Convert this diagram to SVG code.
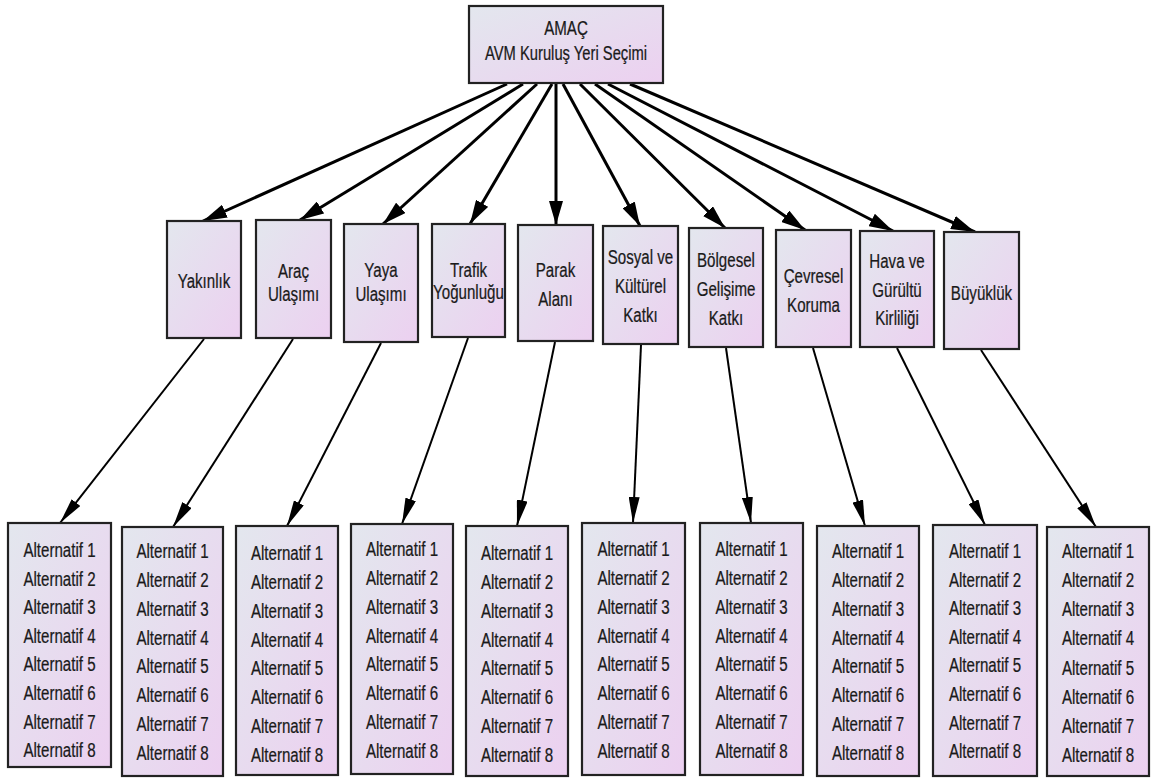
<svg xmlns="http://www.w3.org/2000/svg" width="1152" height="778" viewBox="0 0 1152 778">
<defs>
<linearGradient id="g" x1="0" y1="0" x2="1" y2="1">
<stop offset="0" stop-color="#e3e7ee"/>
<stop offset="1" stop-color="#ecd0f0"/>
</linearGradient>
<marker id="ah1" markerUnits="userSpaceOnUse" markerWidth="24" markerHeight="14" refX="24" refY="7" orient="auto">
<path d="M0,0 L24,7 L0,14 z" fill="#000"/>
</marker>
<marker id="ah2" markerUnits="userSpaceOnUse" markerWidth="26" markerHeight="11" refX="26" refY="5.5" orient="auto">
<path d="M0,0 L26,5.5 L0,11 z" fill="#000"/>
</marker>
<style>
.b{fill:url(#g);stroke:#222;stroke-width:2.2}
.t{font-family:"Liberation Sans",Arial,sans-serif;font-size:21px;fill:#1a1a1a;stroke:#1a1a1a;stroke-width:0.25;text-anchor:middle}
.c1{fill:none;stroke:#000;stroke-width:3;marker-end:url(#ah1)}
.c2{fill:none;stroke:#000;stroke-width:2;marker-end:url(#ah2)}
</style>
</defs>
<rect width="1152" height="778" fill="#fff"/>

<g id="connectors">
<line class="c1" x1="507" y1="84" x2="203" y2="221"/>
<line class="c1" x1="523" y1="84" x2="300" y2="220"/>
<line class="c1" x1="537" y1="84" x2="383" y2="224"/>
<line class="c1" x1="552" y1="84" x2="470" y2="224"/>
<line class="c1" x1="556" y1="84" x2="556" y2="225"/>
<line class="c1" x1="563" y1="84" x2="640" y2="226"/>
<line class="c1" x1="580" y1="84" x2="725" y2="228"/>
<line class="c1" x1="595" y1="84" x2="805" y2="230"/>
<line class="c1" x1="608" y1="84" x2="893" y2="231"/>
<line class="c1" x1="630" y1="84" x2="975" y2="232"/>
<line class="c2" x1="204" y1="339" x2="60" y2="523"/>
<line class="c2" x1="293" y1="339" x2="173" y2="527"/>
<line class="c2" x1="381" y1="343" x2="287" y2="526"/>
<line class="c2" x1="468" y1="338" x2="402" y2="524"/>
<line class="c2" x1="555" y1="342" x2="517" y2="526"/>
<line class="c2" x1="641" y1="345" x2="633" y2="523"/>
<line class="c2" x1="726" y1="348" x2="751" y2="523"/>
<line class="c2" x1="813" y1="348" x2="865" y2="526"/>
<line class="c2" x1="897" y1="348" x2="985" y2="525"/>
<line class="c2" x1="981" y1="350" x2="1096" y2="527"/>
</g>

<g id="goal">
<rect class="b" x="469" y="6" width="194" height="77"/>
<text class="t" transform="translate(566,35) scale(0.72,1)">AMAÇ</text>
<text class="t" transform="translate(566,60) scale(0.72,1)" style="font-size:20.5px">AVM Kuruluş Yeri Seçimi</text>
</g>

<g id="c1"><rect class="b" x="167" y="221" width="74" height="117"/>
<text class="t" transform="translate(204,288) scale(0.72,1)">Yakınlık</text></g>
<g id="c2"><rect class="b" x="256" y="220" width="75" height="118"/>
<text class="t" transform="translate(293.5,278) scale(0.72,1)">Araç</text>
<text class="t" transform="translate(293.5,301) scale(0.72,1)">Ulaşımı</text></g>
<g id="c3"><rect class="b" x="344" y="224" width="74" height="118"/>
<text class="t" transform="translate(381,277) scale(0.72,1)">Yaya</text>
<text class="t" transform="translate(381,301) scale(0.72,1)">Ulaşımı</text></g>
<g id="c4"><rect class="b" x="432" y="224" width="73" height="113"/>
<text class="t" transform="translate(468.5,277) scale(0.72,1)">Trafik</text>
<text class="t" transform="translate(468.5,299) scale(0.72,1)">Yoğunluğu</text></g>
<g id="c5"><rect class="b" x="518" y="225" width="75" height="116"/>
<text class="t" transform="translate(555.5,277) scale(0.72,1)">Parak</text>
<text class="t" transform="translate(555.5,306) scale(0.72,1)">Alanı</text></g>
<g id="c6"><rect class="b" x="603" y="226" width="75" height="118"/>
<text class="t" transform="translate(640.5,264) scale(0.72,1)">Sosyal ve</text>
<text class="t" transform="translate(640.5,293) scale(0.72,1)">Kültürel</text>
<text class="t" transform="translate(640.5,322) scale(0.72,1)">Katkı</text></g>
<g id="c7"><rect class="b" x="689" y="228" width="74" height="119"/>
<text class="t" transform="translate(726,267) scale(0.72,1)">Bölgesel</text>
<text class="t" transform="translate(726,296) scale(0.72,1)">Gelişime</text>
<text class="t" transform="translate(726,325) scale(0.72,1)">Katkı</text></g>
<g id="c8"><rect class="b" x="776" y="230" width="75" height="117"/>
<text class="t" transform="translate(813.5,283) scale(0.72,1)">Çevresel</text>
<text class="t" transform="translate(813.5,312) scale(0.72,1)">Koruma</text></g>
<g id="c9"><rect class="b" x="860" y="231" width="74" height="116"/>
<text class="t" transform="translate(897,268) scale(0.72,1)">Hava ve</text>
<text class="t" transform="translate(897,297) scale(0.72,1)">Gürültü</text>
<text class="t" transform="translate(897,325) scale(0.72,1)">Kirliliği</text></g>
<g id="c10"><rect class="b" x="944" y="232" width="75" height="117"/>
<text class="t" transform="translate(981.5,300) scale(0.72,1)">Büyüklük</text></g>

<g id="a1"><rect class="b" x="8" y="523" width="103" height="244"/>
<text class="t" transform="translate(59.5,557) scale(0.72,1)"><tspan x="0" y="0">Alternatif 1</tspan><tspan x="0" y="28.6">Alternatif 2</tspan><tspan x="0" y="57.2">Alternatif 3</tspan><tspan x="0" y="85.8">Alternatif 4</tspan><tspan x="0" y="114.4">Alternatif 5</tspan><tspan x="0" y="143">Alternatif 6</tspan><tspan x="0" y="171.6">Alternatif 7</tspan><tspan x="0" y="200.2">Alternatif 8</tspan></text></g>
<g id="a2"><rect class="b" x="122" y="527" width="101" height="249"/>
<text class="t" transform="translate(172.5,558) scale(0.72,1)"><tspan x="0" y="0">Alternatif 1</tspan><tspan x="0" y="28.9">Alternatif 2</tspan><tspan x="0" y="57.7">Alternatif 3</tspan><tspan x="0" y="86.6">Alternatif 4</tspan><tspan x="0" y="115.4">Alternatif 5</tspan><tspan x="0" y="144.3">Alternatif 6</tspan><tspan x="0" y="173.1">Alternatif 7</tspan><tspan x="0" y="202">Alternatif 8</tspan></text></g>
<g id="a3"><rect class="b" x="236" y="526" width="102" height="249"/>
<text class="t" transform="translate(287,560) scale(0.72,1)"><tspan x="0" y="0">Alternatif 1</tspan><tspan x="0" y="28.9">Alternatif 2</tspan><tspan x="0" y="57.7">Alternatif 3</tspan><tspan x="0" y="86.6">Alternatif 4</tspan><tspan x="0" y="115.4">Alternatif 5</tspan><tspan x="0" y="144.3">Alternatif 6</tspan><tspan x="0" y="173.1">Alternatif 7</tspan><tspan x="0" y="202">Alternatif 8</tspan></text></g>
<g id="a4"><rect class="b" x="351" y="524" width="102" height="250"/>
<text class="t" transform="translate(402,556) scale(0.72,1)"><tspan x="0" y="0">Alternatif 1</tspan><tspan x="0" y="28.9">Alternatif 2</tspan><tspan x="0" y="57.7">Alternatif 3</tspan><tspan x="0" y="86.6">Alternatif 4</tspan><tspan x="0" y="115.4">Alternatif 5</tspan><tspan x="0" y="144.3">Alternatif 6</tspan><tspan x="0" y="173.1">Alternatif 7</tspan><tspan x="0" y="202">Alternatif 8</tspan></text></g>
<g id="a5"><rect class="b" x="466" y="526" width="102" height="250"/>
<text class="t" transform="translate(517,560) scale(0.72,1)"><tspan x="0" y="0">Alternatif 1</tspan><tspan x="0" y="28.9">Alternatif 2</tspan><tspan x="0" y="57.7">Alternatif 3</tspan><tspan x="0" y="86.6">Alternatif 4</tspan><tspan x="0" y="115.4">Alternatif 5</tspan><tspan x="0" y="144.3">Alternatif 6</tspan><tspan x="0" y="173.1">Alternatif 7</tspan><tspan x="0" y="202">Alternatif 8</tspan></text></g>
<g id="a6"><rect class="b" x="582" y="523" width="103" height="252"/>
<text class="t" transform="translate(633.5,556) scale(0.72,1)"><tspan x="0" y="0">Alternatif 1</tspan><tspan x="0" y="28.9">Alternatif 2</tspan><tspan x="0" y="57.7">Alternatif 3</tspan><tspan x="0" y="86.6">Alternatif 4</tspan><tspan x="0" y="115.4">Alternatif 5</tspan><tspan x="0" y="144.3">Alternatif 6</tspan><tspan x="0" y="173.1">Alternatif 7</tspan><tspan x="0" y="202">Alternatif 8</tspan></text></g>
<g id="a7"><rect class="b" x="700" y="523" width="103" height="252"/>
<text class="t" transform="translate(751.5,556) scale(0.72,1)"><tspan x="0" y="0">Alternatif 1</tspan><tspan x="0" y="28.9">Alternatif 2</tspan><tspan x="0" y="57.7">Alternatif 3</tspan><tspan x="0" y="86.6">Alternatif 4</tspan><tspan x="0" y="115.4">Alternatif 5</tspan><tspan x="0" y="144.3">Alternatif 6</tspan><tspan x="0" y="173.1">Alternatif 7</tspan><tspan x="0" y="202">Alternatif 8</tspan></text></g>
<g id="a8"><rect class="b" x="817" y="526" width="102" height="250"/>
<text class="t" transform="translate(868,558) scale(0.72,1)"><tspan x="0" y="0">Alternatif 1</tspan><tspan x="0" y="28.9">Alternatif 2</tspan><tspan x="0" y="57.7">Alternatif 3</tspan><tspan x="0" y="86.6">Alternatif 4</tspan><tspan x="0" y="115.4">Alternatif 5</tspan><tspan x="0" y="144.3">Alternatif 6</tspan><tspan x="0" y="173.1">Alternatif 7</tspan><tspan x="0" y="202">Alternatif 8</tspan></text></g>
<g id="a9"><rect class="b" x="933" y="525" width="104" height="251"/>
<text class="t" transform="translate(985,558) scale(0.72,1)"><tspan x="0" y="0">Alternatif 1</tspan><tspan x="0" y="28.6">Alternatif 2</tspan><tspan x="0" y="57.2">Alternatif 3</tspan><tspan x="0" y="85.8">Alternatif 4</tspan><tspan x="0" y="114.4">Alternatif 5</tspan><tspan x="0" y="143">Alternatif 6</tspan><tspan x="0" y="171.6">Alternatif 7</tspan><tspan x="0" y="200.2">Alternatif 8</tspan></text></g>
<g id="a10"><rect class="b" x="1047" y="527" width="102" height="249"/>
<text class="t" transform="translate(1098,558) scale(0.72,1)"><tspan x="0" y="0">Alternatif 1</tspan><tspan x="0" y="29.1">Alternatif 2</tspan><tspan x="0" y="58.3">Alternatif 3</tspan><tspan x="0" y="87.4">Alternatif 4</tspan><tspan x="0" y="116.6">Alternatif 5</tspan><tspan x="0" y="145.7">Alternatif 6</tspan><tspan x="0" y="174.9">Alternatif 7</tspan><tspan x="0" y="204">Alternatif 8</tspan></text></g>
</svg>
